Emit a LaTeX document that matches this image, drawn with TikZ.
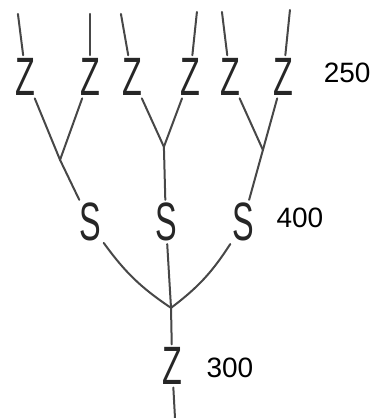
\documentclass[tikz,border=0pt]{standalone}
\usepackage{fontspec}
\setmainfont{Liberation Sans}
\newcommand{\tall}[1]{\scalebox{0.6}[1]{#1}}
\begin{document}
\begin{tikzpicture}[
    lt/.style={inner sep=3pt, outer sep=0pt, text=black!85, font=\fontsize{54}{60}\selectfont},
    num/.style={font=\fontsize{28}{32}\selectfont},
    br/.style={line width=2pt, draw=black!72, line cap=round}]
  \useasboundingbox (0,0) rectangle (13.15,14.69);

  % top row
  \node[lt] (z1) at (0.91,11.99) {\tall{Z}};
  \node[lt] (z2) at (3.16,11.99) {\tall{Z}};
  \node[lt] (z3) at (4.64,11.99) {\tall{Z}};
  \node[lt] (z4) at (6.68,11.99) {\tall{Z}};
  \node[lt] (z5) at (8.08,11.99) {\tall{Z}};
  \node[lt] (z6) at (9.95,11.99) {\tall{Z}};
  \node[num] (n1) at (12.2,12.13) {250};

  \coordinate (t1) at (0.63,14.2);
  \coordinate (t2) at (3.16,14.2);
  \coordinate (t3) at (4.25,14.2);
  \coordinate (t4) at (6.92,14.27);
  \coordinate (t5) at (7.80,14.27);
  \coordinate (t6) at (10.19,14.34);

  \coordinate (j1) at (2.11,9.07);
  \coordinate (j2) at (5.76,9.53);
  \coordinate (j3) at (9.24,9.42);

  % middle row
  \node[lt] (s1) at (3.16,6.89) {\tall{S}};
  \node[lt] (s2) at (5.83,6.89) {\tall{S}};
  \node[lt] (s3) at (8.54,6.89) {\tall{S}};
  \node[num] (n2) at (10.54,7.03) {400};

  \coordinate (j4) at (6.01,3.87);

  % root
  \node[lt] (z7) at (6.05,1.83) {\tall{Z}};
  \node[num] (n3) at (8.08,1.76) {300};
  \coordinate (b) at (6.15,0);

  \draw[br] (t1) -- (z1);
  \draw[br] (t2) -- (z2);
  \draw[br] (t3) -- (z3);
  \draw[br] (t4) -- (z4);
  \draw[br] (t5) -- (z5);
  \draw[br] (t6) -- (z6);

  \draw[br] (z1) -- (j1);
  \draw[br] (z2) -- (j1);
  \draw[br] (z3) -- (j2);
  \draw[br] (z4) -- (j2);
  \draw[br] (z5) -- (j3);
  \draw[br] (z6) -- (j3);

  \draw[br] (j1) -- (s1);
  \draw[br] (j2) -- (s2);
  \draw[br] (j3) -- (s3);

  \draw[br] (s1) to[bend right=10] (j4);
  \draw[br] (s2) -- (j4);
  \draw[br] (s3) to[bend left=10] (j4);

  \draw[br] (j4) -- (z7);
  \draw[br] (z7) -- (b);
\end{tikzpicture}
\end{document}
